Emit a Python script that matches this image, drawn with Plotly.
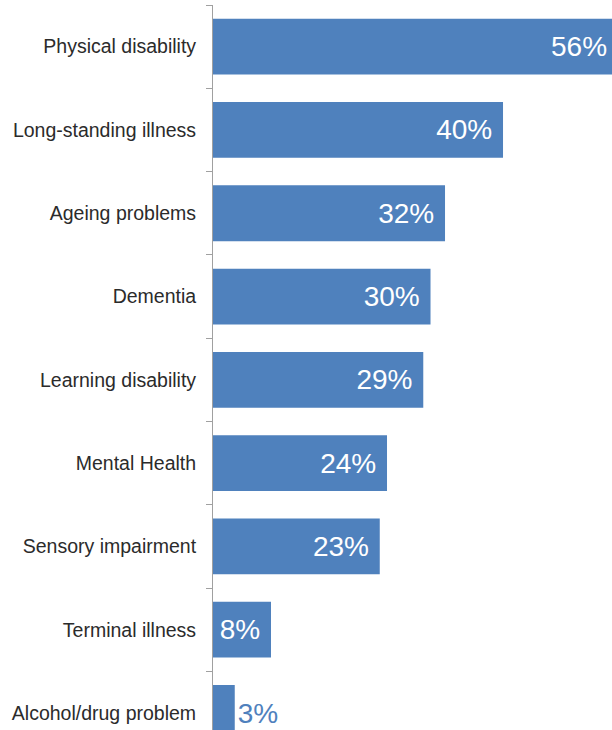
import plotly.graph_objects as go

# Share of respondents by condition
categories = [
    "Physical disability",
    "Long-standing illness",
    "Ageing problems",
    "Dementia",
    "Learning disability",
    "Mental Health",
    "Sensory impairment",
    "Terminal illness",
    "Alcohol/drug problem",
]
values = [56, 40, 32, 30, 29, 24, 23, 8, 3]

BAR_COLOR = "#4F81BD"
FONT = "Liberation Sans, Arial, sans-serif"
X_MAX = 55.03  # the longest bar runs past the right edge

# small bars get their label outside; bars running past the edge get
# their label as an annotation so it stays inside the page
positions = []
for v in values:
    if v > X_MAX:
        positions.append("none")
    elif v >= 5:
        positions.append("inside")
    else:
        positions.append("outside")

fig = go.Figure(
    go.Bar(
        x=values,
        y=categories,
        orientation="h",
        marker=dict(color=BAR_COLOR, line=dict(width=0)),
        texttemplate="%{x}%\u00a0",
        textposition=positions,
        insidetextanchor="end",
        insidetextfont=dict(color="white", size=28, family=FONT),
        outsidetextfont=dict(color=BAR_COLOR, size=28, family=FONT),
        constraintext="none",
        cliponaxis=True,
    )
)

for cat, v in zip(categories, values):
    if v > X_MAX:
        fig.add_annotation(
            x=v / X_MAX,
            xref="x domain",
            y=cat,
            yref="y",
            text=f"{v}%",
            showarrow=False,
            xanchor="right",
            xshift=-10,
            font=dict(color="white", size=28, family=FONT),
        )

fig.update_layout(
    width=612,
    height=730,
    margin=dict(l=213, r=0, t=5, b=0),
    paper_bgcolor="white",
    plot_bgcolor="white",
    bargap=0.33,
    showlegend=False,
    font=dict(family=FONT),
)

fig.update_xaxes(
    range=[0, X_MAX],
    visible=False,
    showgrid=False,
    zeroline=False,
)

fig.update_yaxes(
    categoryorder="array",
    categoryarray=categories,
    range=[8.204, -0.5],
    showline=True,
    linecolor="#A0A0A0",
    linewidth=1,
    ticks="outside",
    tickson="boundaries",
    ticklen=6,
    tickcolor="#A0A0A0",
    tickfont=dict(size=19.5, color="#2B2B2B", family=FONT),
    ticklabelstandoff=12,
    showgrid=False,
    zeroline=False,
)

fig.write_html("out.html")
